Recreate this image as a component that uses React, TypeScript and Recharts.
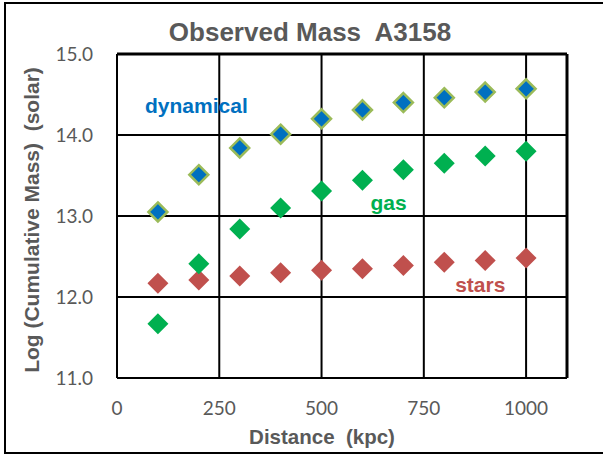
import { ScatterChart, Scatter, XAxis, YAxis, CartesianGrid, ReferenceLine, ReferenceDot, Label } from 'recharts'

const distances = [100, 200, 300, 400, 500, 600, 700, 800, 900, 1000]
const dynamical = [13.05, 13.51, 13.84, 14.01, 14.2, 14.31, 14.4, 14.46, 14.53, 14.57]
const gas = [11.67, 12.41, 12.84, 13.1, 13.31, 13.44, 13.57, 13.65, 13.74, 13.8]
const stars = [12.17, 12.21, 12.26, 12.3, 12.33, 12.35, 12.39, 12.43, 12.45, 12.48]
const xTicks = [0, 250, 500, 750, 1000]
const yTicks = [11, 12, 13, 14, 15]

const toPoints = (ys: number[]) => distances.map((x, i) => ({ x, y: ys[i] }))

const GRAY = '#595959'
const tickStyle = { fill: GRAY, fontSize: 19, fontFamily: 'Lato, sans-serif' }
const boldFont = '"Liberation Sans", Arial, sans-serif'

// diamond marker, half-diagonal r
const diamond = (fill: string, stroke?: string, r = 10.5) => (props: any) => {
  const { cx, cy } = props
  if (cx == null || cy == null) return <g />
  return (
    <path
      d={`M${cx},${cy - r} L${cx + r},${cy} L${cx},${cy + r} L${cx - r},${cy} Z`}
      fill={fill}
      stroke={stroke ?? 'none'}
      strokeWidth={stroke ? 2.5 : 0}
    />
  )
}

const seriesLabel = (text: string, color: string) => (props: any) => {
  const { viewBox } = props
  if (!viewBox) return null
  return (
    <text
      x={viewBox.x + (viewBox.width ?? 0) / 2}
      y={viewBox.y + (viewBox.height ?? 0) / 2}
      textAnchor="middle"
      dominantBaseline="central"
      fill={color}
      fontSize={21}
      fontWeight="bold"
      fontFamily={boldFont}
    >
      {text}
    </text>
  )
}

export default function App() {
  return (
    <div style={{ position: 'absolute', left: 0, top: 0, width: 603, height: 455, background: '#fff' }}>
      <div
        style={{
          position: 'absolute',
          left: 4,
          top: 2,
          width: 620,
          height: 448,
          border: '2px solid #000',
        }}
      />
      <div
        style={{
          position: 'absolute',
          left: 310,
          top: 17,
          transform: 'translateX(-50%)',
          fontFamily: boldFont,
          fontWeight: 'bold',
          fontSize: 26,
          lineHeight: '30px',
          color: GRAY,
          whiteSpace: 'pre',
        }}
      >
        Observed Mass  A3158
      </div>
      <div
        style={{
          position: 'absolute',
          left: 322,
          top: 425,
          transform: 'translateX(-50%)',
          fontFamily: boldFont,
          fontWeight: 'bold',
          fontSize: 20.5,
          lineHeight: '24px',
          color: GRAY,
          whiteSpace: 'pre',
        }}
      >
        Distance  (kpc)
      </div>
      <div
        style={{
          position: 'absolute',
          left: 32,
          top: 220,
          transform: 'translate(-50%, -50%) rotate(-90deg)',
          fontFamily: boldFont,
          fontWeight: 'bold',
          fontSize: 21,
          lineHeight: '24px',
          color: GRAY,
          whiteSpace: 'pre',
        }}
      >
        Log (Cumulative Mass)  (solar)
      </div>
      <ScatterChart
        width={603}
        height={455}
        margin={{ top: 54, right: 36, left: 0, bottom: 0 }}
        style={{ position: 'absolute', left: 0, top: 0 }}
      >
        <CartesianGrid stroke="#000" strokeWidth={2} />
        <XAxis
          type="number"
          dataKey="x"
          domain={[0, 1100]}
          ticks={xTicks}
          height={77}
          axisLine={false}
          tickLine={false}
          tickSize={0}
          tickMargin={24}
          tick={tickStyle}
        />
        <YAxis
          type="number"
          dataKey="y"
          domain={[11, 15]}
          ticks={yTicks}
          width={117}
          axisLine={false}
          tickLine={false}
          tickSize={0}
          tickMargin={24}
          tick={tickStyle}
          tickFormatter={(v: number) => v.toFixed(1)}
        />
        <ReferenceLine x={1100} stroke="#000" strokeWidth={3} />
        <ReferenceLine y={15} stroke="#000" strokeWidth={3} />
        <Scatter data={toPoints(stars)} shape={diamond('#C0504D')} isAnimationActive={false} />
        <Scatter data={toPoints(gas)} shape={diamond('#00B050')} isAnimationActive={false} />
        <Scatter data={toPoints(dynamical)} shape={diamond('#0070C0', '#9BBB59', 9.5)} isAnimationActive={false} />
        <ReferenceDot x={194} y={14.37} r={0} stroke="none" fill="none">
          <Label content={seriesLabel('dynamical', '#0070C0')} />
        </ReferenceDot>
        <ReferenceDot x={664} y={13.17} r={0} stroke="none" fill="none">
          <Label content={seriesLabel('gas', '#00B050')} />
        </ReferenceDot>
        <ReferenceDot x={888} y={12.15} r={0} stroke="none" fill="none">
          <Label content={seriesLabel('stars', '#C0504D')} />
        </ReferenceDot>
      </ScatterChart>
    </div>
  )
}
